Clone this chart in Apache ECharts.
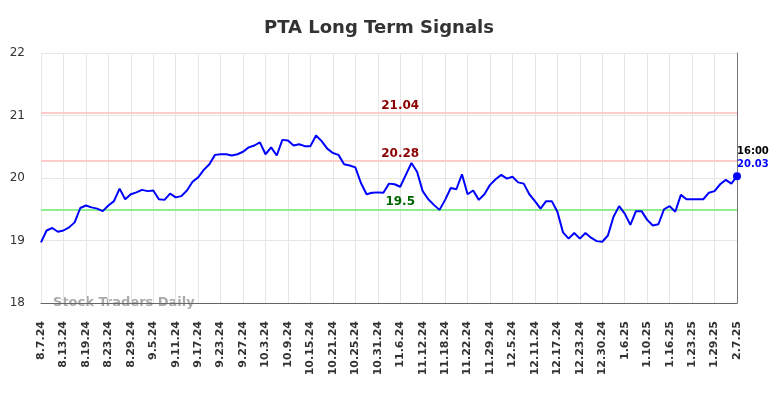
<!DOCTYPE html>
<html>
<head>
<meta charset="utf-8">
<script src="https://cdn.jsdelivr.net/npm/echarts@6/dist/echarts.min.js"></script>
<style>
html,body{margin:0;padding:0;background:#fff;}
#chart{width:784px;height:398px;}
</style>
</head>
<body>
<div id="chart"></div>
<script>
const titleText = 'PTA Long Term Signals';
const watermarkText = 'Stock Traders Daily';
const lastTimeText = '16:00';

const dates = [
'8.7.24','8.8.24','8.9.24','8.12.24',
'8.13.24','8.14.24','8.15.24','8.16.24',
'8.19.24','8.20.24','8.21.24','8.22.24',
'8.23.24','8.26.24','8.27.24','8.28.24',
'8.29.24','8.30.24','9.3.24','9.4.24',
'9.5.24','9.6.24','9.9.24','9.10.24',
'9.11.24','9.12.24','9.13.24','9.16.24',
'9.17.24','9.18.24','9.19.24','9.20.24',
'9.23.24','9.24.24','9.25.24','9.26.24',
'9.27.24','9.30.24','10.1.24','10.2.24',
'10.3.24','10.4.24','10.7.24','10.8.24',
'10.9.24','10.10.24','10.11.24','10.14.24',
'10.15.24','10.16.24','10.17.24','10.18.24',
'10.21.24','10.22.24','10.23.24','10.24.24',
'10.25.24','10.28.24','10.29.24','10.30.24',
'10.31.24','11.1.24','11.4.24','11.5.24',
'11.6.24','11.7.24','11.8.24','11.11.24',
'11.12.24','11.13.24','11.14.24','11.15.24',
'11.18.24','11.19.24','11.20.24','11.21.24',
'11.22.24','11.25.24','11.26.24','11.27.24',
'11.29.24','12.2.24','12.3.24','12.4.24',
'12.5.24','12.6.24','12.9.24','12.10.24',
'12.11.24','12.12.24','12.13.24','12.16.24',
'12.17.24','12.18.24','12.19.24','12.20.24',
'12.23.24','12.24.24','12.26.24','12.27.24',
'12.30.24','12.31.24','1.2.25','1.3.25',
'1.6.25','1.7.25','1.8.25','1.9.25',
'1.10.25','1.13.25','1.14.25','1.15.25',
'1.16.25','1.17.25','1.21.25','1.22.25',
'1.23.25','1.24.25','1.27.25','1.28.25',
'1.29.25','1.30.25','1.31.25','2.4.25',
'2.7.25'
];

const prices = [
18.97, 19.16, 19.20, 19.14,
19.16, 19.21, 19.29, 19.52,
19.56, 19.53, 19.51, 19.47,
19.56, 19.63, 19.83, 19.66,
19.74, 19.77, 19.81, 19.79,
19.80, 19.66, 19.65, 19.75,
19.69, 19.71, 19.80, 19.94,
20.01, 20.13, 20.22, 20.37,
20.38, 20.38, 20.36, 20.38,
20.42, 20.49, 20.52, 20.57,
20.38, 20.49, 20.36, 20.61,
20.60, 20.52, 20.54, 20.51,
20.51, 20.68, 20.59, 20.47,
20.40, 20.37, 20.22, 20.20,
20.17, 19.92, 19.74, 19.765,
19.77, 19.765, 19.91, 19.90,
19.86, 20.05, 20.24, 20.10,
19.79, 19.66, 19.57, 19.49,
19.65, 19.84, 19.82, 20.06,
19.74, 19.80, 19.65, 19.74,
19.89, 19.98, 20.05, 19.99,
20.02, 19.93, 19.91, 19.74,
19.63, 19.51, 19.63, 19.63,
19.46, 19.13, 19.03, 19.12,
19.03, 19.12, 19.045, 18.99,
18.98, 19.08, 19.38, 19.55,
19.43, 19.25, 19.47, 19.47,
19.33, 19.24, 19.26, 19.50,
19.55, 19.46, 19.73, 19.66,
19.66, 19.66, 19.66, 19.765,
19.79, 19.90, 19.97, 19.91,
20.03
];

const signalValues = [21.04, 20.28, 19.5];
const signalLabels = ['21.04', '20.28', '19.5'];
const signalLineColors = ['#ffcccc', '#ffcccc', '#90ee90'];
const signalTextColors = ['#8b0000', '#8b0000', '#006400'];
const signalLabelCategory = '11.6.24';

const yMin = 18, yMax = 22, yStep = 1;

const FONT = 'DejaVu Sans';
const chart = echarts.init(document.getElementById('chart'), null, {renderer: 'canvas'});

const lastIdx = prices.length - 1;
const lineData = prices.map((v, i) => {
  if (i !== lastIdx) return v;
  return {
    value: v,
    symbol: 'circle',
    symbolSize: 8,
    itemStyle: {color: '#0000ff'},
    label: {
      show: true,
      position: 'top',
      distance: 1,
      align: 'left',
      formatter: (p) => '{t|' + lastTimeText + '}\n{v|' + Number(p.value).toFixed(2) + '}',
      rich: {
        t: {fontFamily: FONT, fontWeight: 'bold', fontSize: 10, color: '#000', lineHeight: 13},
        v: {fontFamily: FONT, fontWeight: 'bold', fontSize: 10, color: '#0000ff', lineHeight: 13}
      }
    }
  };
});

const option = {
  backgroundColor: '#ffffff',
  animation: false,
  title: {
    text: titleText,
    left: 259,
    top: 14,
    textStyle: {fontFamily: FONT, fontSize: 18, fontWeight: 'bold', color: '#333'}
  },
  graphic: [{
    type: 'text',
    left: 53,
    top: 296,
    z: 0,
    style: {text: watermarkText, fill: '#aaaaaa', font: 'bold 13px "DejaVu Sans"'}
  }],
  grid: {left: 41, right: 47, top: 53, bottom: 95, containLabel: false},
  xAxis: {
    type: 'category',
    data: dates,
    boundaryGap: false,
    axisLine: {show: true, lineStyle: {color: '#666', width: 1}},
    axisTick: {show: false},
    axisLabel: {
      interval: 3,
      rotate: 90,
      margin: 18,
      fontFamily: FONT,
      fontSize: 11,
      fontWeight: 'bold',
      color: '#333'
    },
    splitLine: {show: true, interval: 3, lineStyle: {color: '#e6e6e6', width: 1}}
  },
  yAxis: [{
    type: 'value',
    min: yMin, max: yMax, interval: yStep,
    axisLine: {show: false},
    axisTick: {show: false},
    axisLabel: {fontFamily: FONT, fontSize: 12, color: '#333', margin: 16},
    splitLine: {show: true, lineStyle: {color: '#e6e6e6', width: 1}}
  }, {
    type: 'value',
    position: 'right',
    min: yMin, max: yMax, interval: yStep,
    axisLine: {show: true, lineStyle: {color: '#777', width: 1}},
    axisTick: {show: false},
    axisLabel: {show: false},
    splitLine: {show: false}
  }],
  series: [{
    type: 'line',
    data: lineData,
    yAxisIndex: 0,
    showSymbol: true,
    symbol: 'none',
    lineStyle: {color: '#0000ff', width: 2},
    itemStyle: {color: '#0000ff'},
    z: 5,
    markLine: {
      silent: true,
      symbol: ['none', 'none'],
      label: {show: false},
      data: signalValues.map((v, i) => ({
        yAxis: v,
        lineStyle: {color: signalLineColors[i], width: 2, type: 'solid'}
      }))
    },
    markPoint: {
      silent: true,
      symbol: 'circle',
      symbolSize: 0,
      data: signalValues.map((v, i) => ({
        coord: [signalLabelCategory, v],
        label: {
          show: true,
          position: 'inside',
          offset: [0, -7],
          formatter: signalLabels[i],
          fontFamily: FONT,
          fontSize: 12,
          fontWeight: 'bold',
          color: signalTextColors[i]
        }
      }))
    }
  }]
};

chart.setOption(option);
</script>
</body>
</html>
